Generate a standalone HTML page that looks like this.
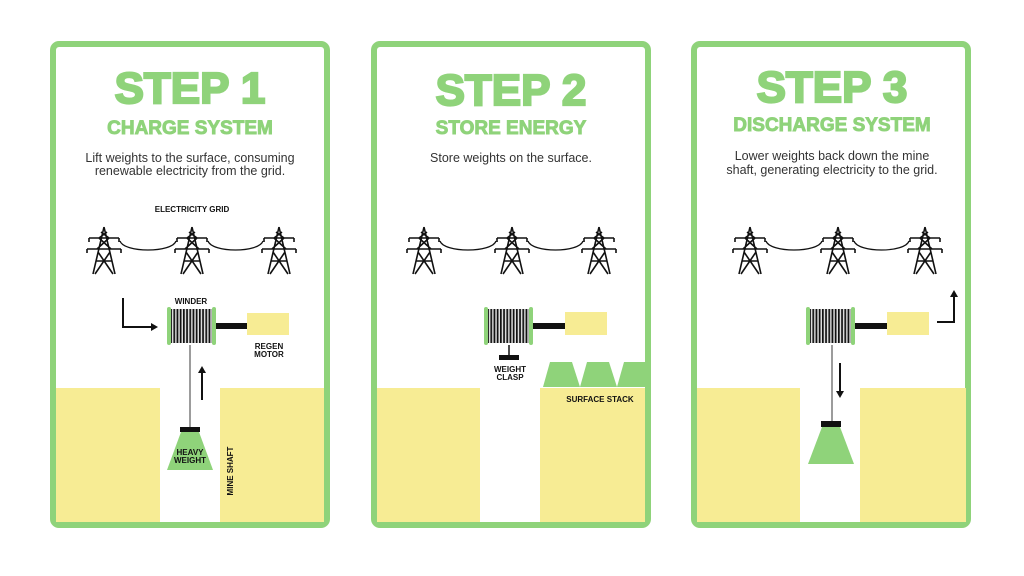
<!DOCTYPE html>
<html><head><meta charset="utf-8"><style>
html,body{margin:0;padding:0;background:#fff;}
svg{display:block;}
text{font-family:"Liberation Sans",sans-serif;}
.t{font-weight:bold;fill:#8fd37a;stroke:#8fd37a;text-anchor:middle;}
.d{font-size:12.5px;fill:#333;text-anchor:middle;}
.s{font-size:8px;font-weight:bold;fill:#111;text-anchor:middle;}
</style></head><body>
<svg width="1024" height="576" viewBox="0 0 1024 576" xmlns="http://www.w3.org/2000/svg">
<defs>
<pattern id="coil" width="3.2" height="10" patternUnits="userSpaceOnUse">
<rect width="3.2" height="10" fill="#ddd"/><rect width="1.7" height="10" fill="#111"/>
</pattern>
<g id="tower" fill="none" stroke="#111" stroke-width="1.6">
<path d="M0,0 L-11,47 M0,0 L11,47 M-15,11 L15,11 M-17,22 L17,22 M-15,11 L-15,15 M15,11 L15,15 M-17,22 L-17,26 M17,22 L17,26 M-6,25 L9,47 M6,25 L-9,47 M-8,34 L8,34 M-3,5 L5,11 M3,5 L-5,11 M-5,11 L7,22 M5,11 L-7,22"/>
</g>
<g id="grid">
<use href="#tower" x="0" y="0"/>
<use href="#tower" x="88" y="0"/>
<use href="#tower" x="175" y="0"/>
<path d="M16,14 C20,26 68,26 72,14 M104,14 C108,26 155,26 159,14" fill="none" stroke="#111" stroke-width="1.2"/>
</g>
<g id="spool">
<rect x="3" y="2" width="43" height="34" fill="url(#coil)"/>
<rect x="0" y="0" width="4" height="38" rx="2" fill="#8fd37a"/>
<rect x="45" y="0" width="4" height="38" rx="2" fill="#8fd37a"/>
</g>
</defs>

<rect x="53" y="44" width="274" height="481" rx="6" fill="#fff" stroke="#8fd37a" stroke-width="6"/>
<rect x="374" y="44" width="274" height="481" rx="6" fill="#fff" stroke="#8fd37a" stroke-width="6"/>
<rect x="694" y="44" width="274" height="481" rx="6" fill="#fff" stroke="#8fd37a" stroke-width="6"/>

<!-- PANEL 1 -->
<text class="t" x="190" y="103" font-size="44" stroke-width="2.2">STEP 1</text>
<text class="t" x="190" y="134" font-size="19" stroke-width="0.9">CHARGE SYSTEM</text>
<text class="d" x="190" y="162">Lift weights to the surface, consuming</text>
<text class="d" x="190" y="175">renewable electricity from the grid.</text>
<text class="s" x="192" y="212" font-size="9.5">ELECTRICITY GRID</text>
<use href="#grid" x="104" y="227"/>
<path d="M123,298 V327 H153" fill="none" stroke="#111" stroke-width="2"/>
<path d="M158,327 L151,323 L151,331 Z" fill="#111"/>
<text class="s" x="191" y="304">WINDER</text>
<use href="#spool" x="167" y="307"/>
<rect x="216" y="323" width="31" height="6" fill="#111"/>
<rect x="247" y="313" width="42" height="22" fill="#f7ec94"/>
<text class="s" x="269" y="349">REGEN</text>
<text class="s" x="269" y="357">MOTOR</text>
<rect x="56" y="388" width="104" height="134" fill="#f7ec94"/>
<rect x="220" y="388" width="104" height="134" fill="#f7ec94"/>
<line x1="190" y1="345" x2="190" y2="427" stroke="#666" stroke-width="1.3"/>
<line x1="202" y1="400" x2="202" y2="372" stroke="#111" stroke-width="2"/>
<path d="M202,366 L198,373 L206,373 Z" fill="#111"/>
<rect x="180" y="427" width="20" height="5" fill="#111"/>
<path d="M181,432 L199,432 L213,470 L167,470 Z" fill="#8fd37a"/>
<text class="s" x="190" y="455">HEAVY</text>
<text class="s" x="190" y="463">WEIGHT</text>
<text class="s" transform="translate(233,471) rotate(-90)" font-size="9.5">MINE SHAFT</text>

<!-- PANEL 2 -->
<text class="t" x="511" y="105" font-size="44" stroke-width="2.2">STEP 2</text>
<text class="t" x="511" y="134" font-size="19" stroke-width="0.9">STORE ENERGY</text>
<text class="d" x="511" y="162">Store weights on the surface.</text>
<use href="#grid" x="424" y="227"/>
<use href="#spool" x="484" y="307"/>
<rect x="533" y="323" width="32" height="6" fill="#111"/>
<rect x="565" y="312" width="42" height="23" fill="#f7ec94"/>
<line x1="509" y1="345" x2="509" y2="355" stroke="#111" stroke-width="1.5"/>
<rect x="499" y="355" width="20" height="5" fill="#111"/>
<text class="s" x="510" y="372">WEIGHT</text>
<text class="s" x="510" y="380">CLASP</text>
<rect x="377" y="388" width="103" height="134" fill="#f7ec94"/>
<rect x="540" y="388" width="105" height="134" fill="#f7ec94"/>
<path d="M550,362 L572,362 L580,387 L543,387 Z" fill="#8fd37a"/>
<path d="M587,362 L609,362 L617,387 L580,387 Z" fill="#8fd37a"/>
<path d="M624,362 L645,362 L645,387 L617,387 Z" fill="#8fd37a"/>
<text class="s" x="600" y="402">SURFACE STACK</text>

<!-- PANEL 3 -->
<text class="t" x="832" y="102" font-size="44" stroke-width="2.2">STEP 3</text>
<text class="t" x="832" y="131" font-size="19" stroke-width="0.9">DISCHARGE SYSTEM</text>
<text class="d" x="832" y="160">Lower weights back down the mine</text>
<text class="d" x="832" y="174">shaft, generating electricity to the grid.</text>
<use href="#grid" x="750" y="227"/>
<use href="#spool" x="806" y="307"/>
<rect x="855" y="323" width="32" height="6" fill="#111"/>
<rect x="887" y="312" width="42" height="23" fill="#f7ec94"/>
<path d="M937,322 H954 V296" fill="none" stroke="#111" stroke-width="2"/>
<path d="M954,290 L950,297 L958,297 Z" fill="#111"/>
<rect x="697" y="388" width="103" height="134" fill="#f7ec94"/>
<rect x="860" y="388" width="106" height="134" fill="#f7ec94"/>
<line x1="832" y1="345" x2="832" y2="421" stroke="#666" stroke-width="1.3"/>
<line x1="840" y1="363" x2="840" y2="392" stroke="#111" stroke-width="2"/>
<path d="M840,398 L836,391 L844,391 Z" fill="#111"/>
<rect x="821" y="421" width="20" height="6" fill="#111"/>
<path d="M822,427 L840,427 L854,464 L808,464 Z" fill="#8fd37a"/>
</svg>
</body></html>
